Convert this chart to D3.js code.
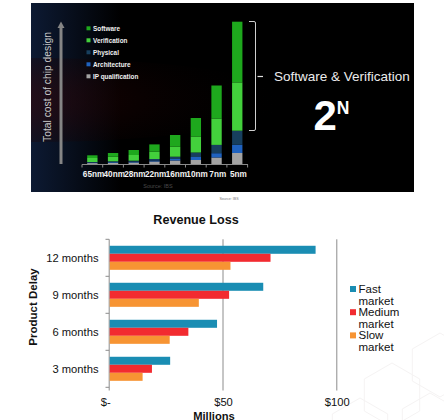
<!DOCTYPE html>
<html><head><meta charset="utf-8">
<script src="https://cdn.jsdelivr.net/npm/d3@7"></script>
<style>html,body{margin:0;padding:0;background:#fff;}svg{display:block;}</style>
</head><body>
<svg id="c" width="444" height="420"></svg>
<script>
// ---- Top panel data (relative total cost of chip design per node) ----
const nodes = ['65nm','40nm','28nm','22nm','16nm','10nm','7nm','5nm'];
const ipQualification = [0.9,1.2,1.5,2.5,3.5,4,6.5,11];
const architecture   = [0.5,0.7,0.8,1,1.5,3,4.3,8.3];
const physical       = [0.6,0.8,1,1.5,2.3,4.5,8.3,14];
const verification   = [4,4.6,5.7,7.3,10,16,26.4,48.3];
const software       = [2.7,3.7,5,7.3,11.7,18.5,33,60.7];
const costLegend = ['Software','Verification','Physical','Architecture','IP qualification'];

// ---- Bottom chart data (revenue loss, $ millions) ----
const delays = ['12 months','9 months','6 months','3 months'];
const markets = ['Fast market','Medium market','Slow market'];
const fastMarket   = [90.9,67.9,47.6,27.0];
const mediumMarket = [71.1,52.9,35.0,19.0];
const slowMarket   = [53.5,39.6,26.8,14.9];
const xTicks = [0,50,100];
const xTickLabels = ['$-','$50','$100'];

const svg = d3.select('#c');
const defs = svg.append('defs');
const font = 'Liberation Sans, Arial, sans-serif';

// ===== TOP PANEL =====
const glow = defs.append('radialGradient').attr('id','redglow')
  .attr('cx','0').attr('cy','0.5').attr('r','1');
glow.append('stop').attr('offset','0').attr('stop-color','#7a1010').attr('stop-opacity',0.95);
glow.append('stop').attr('offset','0.45').attr('stop-color','#3a0606').attr('stop-opacity',0.6);
glow.append('stop').attr('offset','1').attr('stop-color','#000').attr('stop-opacity',0);
const blu = defs.append('linearGradient').attr('id','blueleft').attr('x1',0).attr('x2',1).attr('y1',0).attr('y2',0);
blu.append('stop').attr('offset','0').attr('stop-color','#0d1a33');
blu.append('stop').attr('offset','1').attr('stop-color','#000');
defs.append('clipPath').attr('id','panelclip').append('rect')
  .attr('x',31).attr('y',3).attr('width',383).attr('height',189);

const topG = svg.append('g');
topG.append('rect').attr('x',31).attr('y',3).attr('width',383).attr('height',189).attr('fill','#000');
topG.append('rect').attr('x',31).attr('y',3).attr('width',90).attr('height',189).attr('fill','url(#blueleft)');
topG.append('ellipse').attr('cx',31).attr('cy',100).attr('rx',260).attr('ry',42)
  .attr('fill','url(#redglow)').attr('clip-path','url(#panelclip)');

// arrow
topG.append('line').attr('x1',61).attr('x2',61).attr('y1',164).attr('y2',27)
  .attr('stroke','#858585').attr('stroke-width',3);
topG.append('path').attr('d','M57.5,28 L61,21.5 L64.5,28 Z').attr('fill','#858585');
topG.append('text').attr('transform','translate(51,87) rotate(-90)')
  .attr('text-anchor','middle').attr('font-family',font)
  .attr('font-size',10.3).attr('fill','#c8c8c8').text('Total cost of chip design');

const colors = {
  'IP qualification':'#a3a3a3','Architecture':'#1f62bf','Physical':'#173f5e',
  'Verification':'#43d03c','Software':'#1ea81d'
};
const seriesTop = [
  {key:'IP qualification', v:ipQualification},
  {key:'Architecture', v:architecture},
  {key:'Physical', v:physical},
  {key:'Verification', v:verification},
  {key:'Software', v:software}
];
const tableTop = nodes.map((n,i)=>{const o={node:n}; seriesTop.forEach(s=>o[s.key]=s.v[i]); return o;});
const stack = d3.stack().keys(seriesTop.map(s=>s.key))(tableTop);

const xT = d3.scaleBand().domain(nodes).range([82,247.6]).paddingInner(0.5).paddingOuter(0.25);
const yT = d3.scaleLinear().domain([0,150]).range([164,14]);

stack.forEach(layer=>{
  topG.append('g').attr('fill',colors[layer.key]).selectAll('rect').data(layer).join('rect')
    .attr('x',d=>xT(d.data.node)).attr('width',xT.bandwidth())
    .attr('y',d=>yT(d[1])).attr('height',d=>yT(d[0])-yT(d[1]));
});
// base axis
topG.append('line').attr('x1',82).attr('x2',248).attr('y1',164.5).attr('y2',164.5)
  .attr('stroke','#8a8a8a').attr('stroke-width',1);
topG.append('g').selectAll('line').data(d3.range(nodes.length+1)).join('line')
  .attr('x1',i=>82+i*xT.step()).attr('x2',i=>82+i*xT.step())
  .attr('y1',164.5).attr('y2',167.5).attr('stroke','#8a8a8a');
topG.append('g').selectAll('text').data(nodes).join('text')
  .attr('x',d=>xT(d)+xT.bandwidth()/2+1.2).attr('y',177)
  .attr('text-anchor','middle').attr('font-family',font)
  .attr('font-weight','bold').attr('font-size',8.2).attr('fill','#f2f2f2').text(d=>d);
topG.append('text').attr('x',158).attr('y',188).attr('text-anchor','middle')
  .attr('font-family',font).attr('font-size',5.5)
  .attr('fill','#4a4a4a').text('Source: IBS');

// legend (top)
const lgT = topG.append('g').selectAll('g').data(costLegend).join('g')
  .attr('transform',(d,i)=>`translate(86.5,${28.3+i*12})`);
lgT.append('rect').attr('x',0).attr('y',-2).attr('width',4).attr('height',4).attr('fill',d=>colors[d]);
lgT.append('text').attr('x',6.5).attr('y',2.3).attr('font-family',font)
  .attr('font-weight','bold').attr('font-size',6.4).attr('fill','#f0f0f0').text(d=>d);

// bracket + annotation
topG.append('path').attr('d','M249,21.5 H254 Q255.5,21.5 255.5,23 V129 Q255.5,130.5 254,130.5 H249')
  .attr('fill','none').attr('stroke','#cfcfcf').attr('stroke-width',1);
topG.append('line').attr('x1',257.5).attr('x2',263).attr('y1',76.5).attr('y2',76.5)
  .attr('stroke','#e0e0e0').attr('stroke-width',1.2);
topG.append('text').attr('x',274).attr('y',81).attr('font-family',font)
  .attr('font-size',13.5).attr('fill','#ececec').text('Software & Verification');
const twoN = topG.append('text').attr('x',313.5).attr('y',130).attr('font-family',font)
  .attr('font-weight','bold').attr('fill','#fff');
twoN.append('tspan').attr('font-size',42).text('2');
twoN.append('tspan').attr('font-size',17.5).attr('dx',0).attr('dy',-16.5).text('N');

svg.append('text').attr('x',229).attr('y',199.5).attr('text-anchor','middle')
  .attr('font-family',font).attr('font-size',3.6)
  .attr('fill','#777').text('Source: IBS');

// ===== BOTTOM CHART =====
const bot = svg.append('g');
// faint hex pattern
const hexes = [[392,395],[440,365],[360,430],[430,425]];
bot.append('g').selectAll('path').data(hexes).join('path')
  .attr('d',d=>{const r=32;return 'M'+d3.range(6).map(k=>{const a=Math.PI/3*k+Math.PI/6;return [d[0]+r*Math.cos(a),d[1]+r*Math.sin(a)];}).join('L')+'Z';})
  .attr('fill','none').attr('stroke','#f5f3f3').attr('stroke-width',1);

const mColors = ['#1a8db3','#f22b30','#f79433'];
const mValues = [fastMarket, mediumMarket, slowMarket];
const xB = d3.scaleLinear().domain([0,100]).range([108.7,336.3]);
const yB = d3.scaleBand().domain(delays).range([239.3,387.3]).paddingInner(0.35).paddingOuter(0.175);
const ySub = d3.scaleBand().domain(markets).range([0,yB.bandwidth()]);

// gridlines
bot.append('g').selectAll('line').data(xTicks).join('line')
  .attr('x1',d=>xB(d)+0.5).attr('x2',d=>xB(d)+0.5).attr('y1',239.3).attr('y2',390.5)
  .attr('stroke','#8c8c8c').attr('stroke-width',1);
// y ticks
const yTickPos = d3.range(delays.length+1).map(i=>239.3+i*yB.step());
bot.append('g').selectAll('line').data(yTickPos).join('line')
  .attr('x1',105.5).attr('x2',xB(0)+0.5).attr('y1',d=>d).attr('y2',d=>d)
  .attr('stroke','#8c8c8c').attr('stroke-width',1);

markets.forEach((m,mi)=>{
  bot.append('g').attr('fill',mColors[mi]).selectAll('rect').data(delays).join('rect')
    .attr('x',xB(0)+1).attr('y',(d)=>yB(d)+ySub(m))
    .attr('width',(d,i)=>xB(mValues[mi][i])-xB(0)-1).attr('height',ySub.bandwidth());
});

bot.append('g').selectAll('text').data(delays).join('text')
  .attr('x',98.5).attr('y',d=>yB(d)+yB.bandwidth()/2+4)
  .attr('text-anchor','end').attr('font-family',font).attr('font-size',11.2).attr('fill','#111').text(d=>d);
bot.append('g').selectAll('text').data(xTicks).join('text')
  .attr('x',(d,i)=>xB(d)+(i===0?-3:1)).attr('y',406)
  .attr('text-anchor','middle').attr('font-family',font).attr('font-size',11.2).attr('fill','#111')
  .text((d,i)=>xTickLabels[i]);
bot.append('text').attr('x',214).attr('y',419.5).attr('text-anchor','middle')
  .attr('font-family',font).attr('font-weight','bold').attr('font-size',11.2).attr('fill','#111').text('Millions');
bot.append('text').attr('transform','translate(37,307) rotate(-90)').attr('text-anchor','middle')
  .attr('font-family',font).attr('font-weight','bold').attr('font-size',11.5).attr('fill','#111').text('Product Delay');
bot.append('text').attr('x',196).attr('y',224.3).attr('text-anchor','middle')
  .attr('font-family',font).attr('font-weight','bold').attr('font-size',12.6).attr('fill','#111').text('Revenue Loss');

// legend
const lgB = bot.append('g').selectAll('g').data(markets).join('g')
  .attr('transform',(d,i)=>`translate(350,${293+i*23.2})`);
lgB.append('rect').attr('x',0).attr('y',-7).attr('width',6).attr('height',6).attr('fill',(d,i)=>mColors[i]);
lgB.append('text').attr('font-family',font).attr('font-size',11.5).attr('fill','#111')
  .each(function(d){
    const parts=d.split(' ');
    d3.select(this).selectAll('tspan').data(parts).join('tspan')
      .attr('x',8.5).attr('dy',(p,j)=>j===0?0:11.6).text(p=>p);
  });
</script>
</body></html>
